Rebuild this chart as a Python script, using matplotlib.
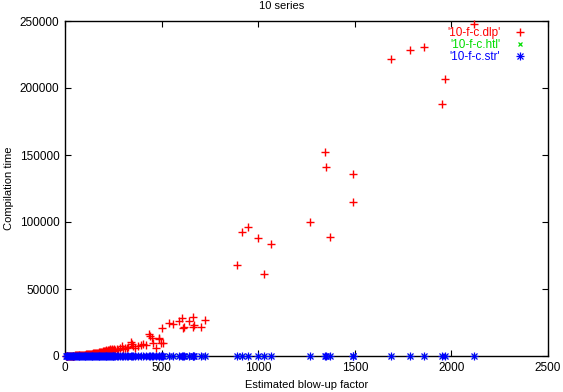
import matplotlib
matplotlib.use("Agg")
import matplotlib.pyplot as plt

# Estimated blow-up factor (shared x for all series)
blowup = [
    3, 8, 12, 17, 21, 25, 30, 34, 39, 43,
    48, 52, 57, 61, 66, 70, 75, 79, 84, 88,
    93, 97, 102, 106, 111, 115, 120, 124, 129, 133,
    138, 142, 147, 151, 156, 160, 165, 169, 174, 178,
    183, 187, 192, 196, 201, 205, 210, 214, 219, 223,
    228, 232, 237, 241, 246, 250, 255, 259, 268, 276,
    285, 293, 300, 310, 319, 327, 340, 345, 352, 362,
    376, 392, 405, 420, 435, 440, 449, 454, 471, 485,
    488, 497, 500, 509, 540, 561, 590, 607, 612, 615,
    642, 661, 664, 669, 704, 725, 890, 914, 947, 1001,
    1028, 1066, 1266, 1346, 1351, 1370, 1489, 1490, 1686, 1784,
    1857, 1951, 1968, 2115,
]

dlp = [
    0, 50, 100, 80, 150, 120, 200, 180, 250, 300,
    280, 450, 500, 420, 600, 550, 700, 650, 800, 900,
    750, 1000, 950, 1100, 1200, 1150, 1400, 1300, 1600, 1500,
    1800, 1700, 2000, 2200, 1900, 2400, 2300, 2600, 2900, 2500,
    3100, 3300, 2800, 3600, 3800, 3400, 4100, 4400, 3900, 4700,
    4300, 5000, 4600, 4900, 3700, 4200, 5300, 4500, 5200, 4400,
    6000, 7700, 5100, 6300, 5700, 6800, 10700, 8700, 7200, 6100,
    7700, 8200, 9000, 8000, 16400, 14900, 13700, 9900, 6200, 12400,
    13200, 9400, 20600, 9900, 24900, 24100, 26300, 28000, 21100, 21300,
    25800, 28900, 21900, 23100, 21900, 26900, 67900, 92800, 96000, 88000,
    61200, 83600, 100000, 152200, 141300, 88800, 135800, 114700, 221400, 228600,
    230800, 188000, 206500, 247500,
]

htl = [
    0, 0, 0, 0, 0, 0, 0, 0, 0, 0,
    0, 0, 0, 0, 0, 0, 0, 0, 0, 0,
    0, 0, 0, 0, 0, 0, 0, 0, 0, 0,
    0, 0, 0, 0, 0, 0, 0, 0, 0, 0,
    0, 0, 0, 0, 0, 0, 0, 0, 0, 0,
    0, 0, 0, 0, 0, 0, 0, 0, 0, 0,
    0, 0, 0, 0, 0, 0, 0, 0, 0, 0,
    0, 0, 0, 0, 0, 0, 0, 0, 0, 0,
    0, 0, 0, 0, 0, 0, 0, 0, 0, 0,
    0, 0, 0, 0, 0, 0, 0, 0, 0, 0,
    0, 0, 0, 0, 0, 0, 0, 0, 0, 0,
    0, 0, 0, 0,
]

strv = [
    0, 0, 0, 0, 0, 0, 0, 0, 0, 0,
    0, 0, 0, 0, 0, 0, 0, 0, 0, 0,
    0, 0, 0, 0, 0, 0, 0, 0, 0, 0,
    0, 0, 0, 0, 0, 0, 0, 0, 0, 0,
    0, 0, 0, 0, 0, 0, 0, 0, 0, 0,
    0, 0, 0, 0, 0, 0, 0, 0, 0, 0,
    0, 0, 0, 0, 0, 0, 0, 0, 0, 0,
    0, 0, 0, 0, 0, 0, 0, 0, 0, 0,
    0, 0, 0, 0, 0, 0, 0, 0, 0, 0,
    0, 0, 0, 0, 0, 0, 0, 0, 0, 0,
    0, 0, 0, 0, 0, 0, 0, 0, 0, 0,
    0, 0, 0, 0,
]

labels = ["'10-f-c.dlp'", "'10-f-c.htl'", "'10-f-c.str'"]
colors = ["#ff0000", "#00dd00", "#0000ff"]
xticks = [0, 500, 1000, 1500, 2000, 2500]
yticks = [0, 50000, 100000, 150000, 200000, 250000]

plt.rcParams['font.family'] = ['Liberation Sans', 'DejaVu Sans']
fig = plt.figure(figsize=(5.63, 3.92), dpi=100)
ax = fig.add_axes([65/563, 36/392, 483/563, 335/392])

ms = 5.2
h1, = ax.plot(blowup, dlp, linestyle='none', marker='+', ms=ms, mew=1.0,
              color=colors[0], clip_on=False, zorder=3)
h2, = ax.plot(blowup, htl, linestyle='none', marker='x', ms=ms*0.65, mew=0.9,
              color=colors[1], clip_on=False, zorder=4)
h3a, = ax.plot(blowup, strv, linestyle='none', marker='+', ms=ms, mew=0.9,
               color=colors[2], clip_on=False, zorder=5)
h3b, = ax.plot(blowup, strv, linestyle='none', marker='x', ms=ms*0.7, mew=0.9,
               color=colors[2], clip_on=False, zorder=5)

ax.set_xlim(0, 2500)
ax.set_ylim(0, 250000)
ax.set_xticks(xticks)
ax.set_yticks(yticks)
ax.set_xticklabels([str(v) for v in xticks])
ax.set_yticklabels([str(v) for v in yticks])
ax.tick_params(direction='in', length=4, width=0.8, top=True, right=True,
               labelsize=8.5, pad=4)
for s in ax.spines.values():
    s.set_linewidth(1.0)

ax.set_xlabel("Estimated blow-up factor", fontsize=8, labelpad=5)
ax.set_ylabel("Compilation time", fontsize=8, labelpad=4)
fig.text(0.5, 1 - 6/392, "10 series", fontsize=8, ha='center', va='center')

leg = ax.legend([h1, h2, (h3a, h3b)], labels,
                loc='upper right', bbox_to_anchor=(0.965, 0.997), frameon=False,
                markerfirst=False, fontsize=8.5, handlelength=1.0,
                handletextpad=1.2, labelspacing=0.0, borderaxespad=0.0)
for t, c in zip(leg.get_texts(), colors):
    t.set_color(c)

fig.savefig("out.png", dpi=100)
